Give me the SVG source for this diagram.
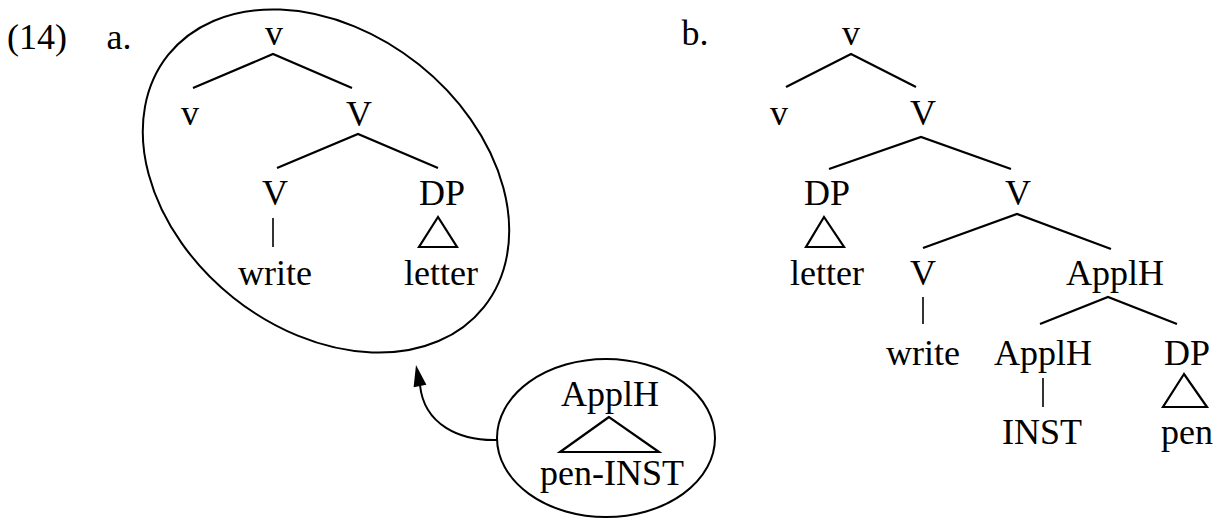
<svg xmlns="http://www.w3.org/2000/svg" width="1221" height="518" viewBox="0 0 1221 518">
<style>
.e{fill:none;stroke:#000;stroke-width:2}
.l{fill:none;stroke:#000;stroke-width:2.2}
.t{fill:none;stroke:#000;stroke-width:1.6}
</style>
<rect width="1221" height="518" fill="#fff"/>
<g id="labels">
<text x="37" y="49" font-family="Liberation Serif" font-size="36" text-anchor="middle">(14)</text>
<text x="119" y="49" font-family="Liberation Serif" font-size="36" text-anchor="middle">a.</text>
<text x="695" y="45" font-family="Liberation Serif" font-size="36" text-anchor="middle">b.</text>
</g>
<g id="tree-a">
<ellipse class="e" cx="326" cy="181" rx="202" ry="149" transform="rotate(38.6 326 181)"/>
<g id="a-v-top"><text x="274" y="45" font-family="Liberation Serif" font-size="36" text-anchor="middle">v</text></g>
<g id="a-v"><text x="190" y="125" font-family="Liberation Serif" font-size="36" text-anchor="middle">v</text></g>
<g id="a-V1"><text x="359" y="126" font-family="Liberation Serif" font-size="36" text-anchor="middle">V</text></g>
<g id="a-V2"><text x="275" y="205" font-family="Liberation Serif" font-size="36" text-anchor="middle">V</text></g>
<g id="a-DP"><text x="442" y="205" font-family="Liberation Serif" font-size="36" text-anchor="middle">DP</text><polygon class="l" points="438,217 419,247 457,247"/></g>
<g id="a-write"><text x="275" y="285" font-family="Liberation Serif" font-size="36" text-anchor="middle">write</text></g>
<g id="a-letter"><text x="441" y="285" font-family="Liberation Serif" font-size="36" text-anchor="middle">letter</text></g>
</g>
<g id="applh-a">
<ellipse class="e" cx="606" cy="438" rx="109" ry="79"/>
<text x="610" y="406" font-family="Liberation Serif" font-size="36" text-anchor="middle">ApplH</text>
<polygon class="l" points="609,417 560,452 659,452"/>
<text x="612" y="485" font-family="Liberation Serif" font-size="36" text-anchor="middle">pen-INST</text>
</g>
<g id="tree-b">
<g id="b-v-top"><text x="851" y="45" font-family="Liberation Serif" font-size="36" text-anchor="middle">v</text></g>
<g id="b-v"><text x="779" y="125" font-family="Liberation Serif" font-size="36" text-anchor="middle">v</text></g>
<g id="b-V1"><text x="923" y="125" font-family="Liberation Serif" font-size="36" text-anchor="middle">V</text></g>
<g id="b-DP1"><text x="827" y="205" font-family="Liberation Serif" font-size="36" text-anchor="middle">DP</text><polygon class="l" points="824,217 806,247 844,247"/></g>
<g id="b-letter"><text x="827" y="285" font-family="Liberation Serif" font-size="36" text-anchor="middle">letter</text></g>
<g id="b-V2"><text x="1018" y="205" font-family="Liberation Serif" font-size="36" text-anchor="middle">V</text></g>
<g id="b-V3"><text x="923" y="285" font-family="Liberation Serif" font-size="36" text-anchor="middle">V</text></g>
<g id="b-write"><text x="923" y="365" font-family="Liberation Serif" font-size="36" text-anchor="middle">write</text></g>
<g id="b-ApplH1"><text x="1115" y="285" font-family="Liberation Serif" font-size="36" text-anchor="middle">ApplH</text></g>
<g id="b-ApplH2"><text x="1043" y="365" font-family="Liberation Serif" font-size="36" text-anchor="middle">ApplH</text></g>
<g id="b-INST"><text x="1042" y="444" font-family="Liberation Serif" font-size="36" text-anchor="middle">INST</text></g>
<g id="b-DP2"><text x="1187" y="365" font-family="Liberation Serif" font-size="36" text-anchor="middle">DP</text><polygon class="l" points="1184,374 1163,407 1207,407"/></g>
<g id="b-pen"><text x="1187" y="444" font-family="Liberation Serif" font-size="36" text-anchor="middle">pen</text></g>
</g>
<g id="connectors">
<polyline class="l" points="193,88 273,54 352,88"/>
<polyline class="l" points="277,168 358,134 438,168"/>
<line class="t" x1="273" y1="218" x2="273" y2="247"/>
<path class="e" d="M497,440 C460,441 424,425 420,385"/>
<polygon points="416,365 426.4,384.8 413.6,387.2" fill="#000"/>
<polyline class="l" points="786,87 851,54 916,87"/>
<polyline class="l" points="829,169 921,137 1011,169"/>
<polyline class="l" points="923,248 1017,214 1111,249"/>
<line class="t" x1="923" y1="297" x2="923" y2="324"/>
<polyline class="l" points="1040,324 1108,297 1177,324"/>
<line class="t" x1="1043" y1="378" x2="1043" y2="407"/>
</g>
</svg>
